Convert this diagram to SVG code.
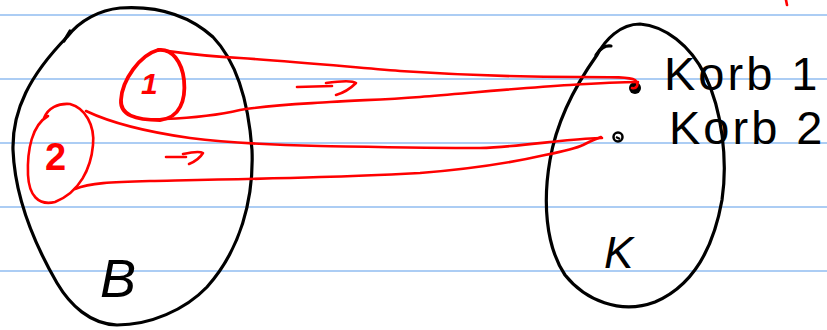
<svg xmlns="http://www.w3.org/2000/svg" width="827" height="330" viewBox="0 0 827 330">
<style>
.rule{stroke:#5b9bea;stroke-width:1.2}
.blk{fill:none;stroke:#000;stroke-width:3.2;stroke-linecap:round;stroke-linejoin:round}
.red{fill:none;stroke:#f00;stroke-width:2.6;stroke-linecap:round;stroke-linejoin:round}
.redt{fill:none;stroke:#f00;stroke-width:3.8;stroke-linecap:round;stroke-linejoin:round}
.hb{font-family:"Liberation Sans",Arial,sans-serif;fill:#000}
.hr{font-family:"Liberation Sans",Arial,sans-serif;fill:#f00}
.korb{font-size:47px;letter-spacing:3px}
</style>
<rect width="827" height="330" fill="#fff"/>
<g id="paper-lines">
<line class="rule" x1="0" y1="15" x2="827" y2="15"/>
<line class="rule" x1="0" y1="79" x2="827" y2="79"/>
<line class="rule" x1="0" y1="143" x2="827" y2="143"/>
<line class="rule" x1="0" y1="207" x2="827" y2="207"/>
<line class="rule" x1="0" y1="271" x2="827" y2="271"/>
</g>
<g id="set-B">
<path class="blk" d="M67,37 C80,20 100,10 120,8 C150,6 185,12 213,37 C235,60 248,95 252,150 C254,200 240,250 207,287 C185,310 150,325 117,325 C90,324 70,305 57,283 C35,245 15,200 13,150 C12,110 30,75 67,37"/>
<path class="blk" d="M64,41 L70,31" stroke-width="2.5"/>
<text class="hb" x="100" y="297" font-size="54" font-style="italic">B</text>
</g>
<g id="set-K">
<path class="blk" d="M597,55 C605,40 620,24 640,24 C665,26 690,45 705,75 C722,110 728,160 722,200 C714,245 695,285 655,302 C620,315 585,300 565,275 C545,245 543,200 550,160 C556,125 572,90 597,55"/>
<path class="blk" d="M596,55 C600,48 606,45 611,46" stroke-width="2.2"/>
<text class="hb" x="604" y="268" font-size="44" font-style="italic">K</text>
</g>
<g id="item-1">
<path class="redt" d="M158,50 C140,55 122,80 121,100 C120,115 135,120 160,120 C180,118 186,100 184,80 C182,62 172,48 158,50"/>
<text class="hr" x="141" y="94" font-size="30" font-weight="bold" font-style="italic">1</text>
</g>
<g id="item-2">
<path class="red" d="M44,118 C48,108 58,103 70,104 C85,108 95,125 93,145 C91,168 80,192 55,202 C38,206 29,195 28,175 C27,150 32,125 48,116"/>
<text class="hr" x="45" y="170" font-size="38" font-weight="bold">2</text>
</g>
<g id="korb-1">
<circle cx="635" cy="88" r="6" fill="#000"/>
<text class="hb korb" x="664" y="90">Korb 1</text>
</g>
<g id="korb-2">
<circle cx="618" cy="137" r="4.5" fill="none" stroke="#000" stroke-width="2.5"/>
<path d="M616,137 L620,139" stroke="#000" stroke-width="2"/>
<text class="hb korb" x="669" y="144">Korb 2</text>
</g>
<g id="connectors">
<path class="red" d="M160,50 C175,52 200,56 240,58 C300,62 350,67 400,71 C460,75 520,77 580,77 C615,77 630,77 635,80 C640,85 636,89 632,88"/>
<path class="red" d="M165,119 C190,118 215,116 240,110 C270,105 300,104 330,102 C360,100 380,100 420,97 C470,93 520,88 570,85 C600,83 625,82 638,82"/>
<path class="red" d="M86,111 C105,120 140,131 190,138 C230,143 270,145 320,146 C380,147 430,148 480,148 C510,147 540,143 560,141 C580,139 595,138 602,138"/>
<path class="red" d="M75,189 C90,183 110,182 150,181 C200,180 260,179 320,177 C360,176 380,175 420,173 C470,169 510,163 545,155 C565,151 575,149 583,145 C590,141 596,139 601,137"/>
<path class="red" d="M297,87 L332,86 M326,83 C340,81 352,80 356,83 C350,89 343,93 336,95"/>
<path class="red" d="M166,157 L186,157 M183,154 C192,152 200,151 203,153 C200,158 194,162 189,164"/>
<path class="red" d="M786,0 L787,5" stroke-width="2"/>
</g>
</svg>
